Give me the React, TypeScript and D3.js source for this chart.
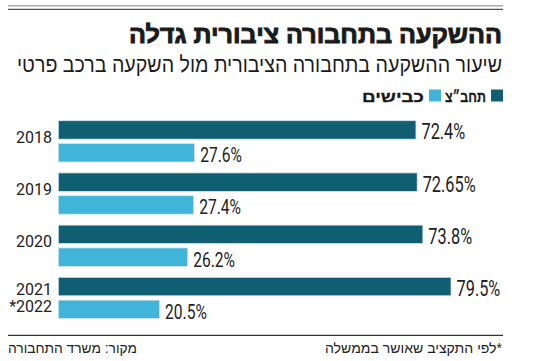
import React from 'react';
import { scaleBand, scaleLinear } from 'd3';

const years = ['2018', '2019', '2020', '2021'];
const yearLabels = [['2018'], ['2019'], ['2020'], ['2021', '*2022']];
const busShare = [72.4, 72.65, 73.8, 79.5];
const roadShare = [27.6, 27.4, 26.2, 20.5];
const seriesKeys = ['bus', 'road'];
const seriesNames = ['תחב״צ', 'כבישים'];

const title = 'ההשקעה בתחבורה ציבורית גדלה';
const subtitle = 'שיעור ההשקעה בתחבורה הציבורית מול השקעה ברכב פרטי';
const source = 'מקור: משרד התחבורה';
const note = '*לפי התקציב שאושר בממשלה';

const W = 550;
const H = 361;
const colors = ['#0f5e72', '#41b4d9'];
const hebFont = '"Liberation Sans", "DejaVu Sans", sans-serif';
const numFont = 'Roboto, sans-serif';

const App = () => {
  // outer band = year group, inner band = series
  const y0 = scaleBand<string>()
    .domain(years)
    .range([120.7, 318.6])
    .paddingInner(0.209)
    .paddingOuter(0);

  const y1 = scaleBand<string>()
    .domain(seriesKeys)
    .range([0, y0.bandwidth()])
    .paddingInner(0.19);

  const x = scaleLinear().domain([0, 100]).range([58.3, 552.3]);

  const values = [busShare, roadShare];

  return (
    <svg
      width={W}
      height={H}
      style={{ position: 'absolute', left: 0, top: 0, background: '#fff' }}
    >
      {/* top rules */}
      <line x1={8} x2={503} y1={5.8} y2={5.8} stroke="#aaa" strokeWidth={1.6} />
      <line x1={8} x2={503} y1={9.4} y2={9.4} stroke="#555" strokeWidth={1.4} />

      <text
        x={502}
        y={43}
        direction="rtl"
        textAnchor="start"
        fontFamily={hebFont}
        fontWeight={900}
        fontSize={24}
        fill="#1a1a1a"
        stroke="#1a1a1a"
        strokeWidth={0.9}
        textLength={373}
        lengthAdjust="spacingAndGlyphs"
      >
        {title}
      </text>
      <text
        transform="translate(502,71.5) scale(1,1.1)"
        direction="rtl"
        textAnchor="start"
        fontFamily={hebFont}
        fontSize={20}
        fill="#1a1a1a"
        textLength={485}
        lengthAdjust="spacingAndGlyphs"
      >
        {subtitle}
      </text>

      {/* legend */}
      <rect x={491} y={89.5} width={12} height={12} fill={colors[0]} />
      <text x={486} y={101.5} direction="rtl" textAnchor="start" fontFamily={hebFont}
        fontWeight={700} fontSize={15} fill="#1a1a1a" stroke="#1a1a1a" strokeWidth={0.3}
        textLength={41} lengthAdjust="spacingAndGlyphs">
        {seriesNames[0]}
      </text>
      <rect x={429} y={89.5} width={12} height={12} fill={colors[1]} />
      <text x={424} y={101.5} direction="rtl" textAnchor="start" fontFamily={hebFont}
        fontWeight={700} fontSize={15} fill="#1a1a1a" stroke="#1a1a1a" strokeWidth={0.3}
        textLength={62} lengthAdjust="spacingAndGlyphs">
        {seriesNames[1]}
      </text>

      {years.map((yr, i) => {
        const gy = y0(yr) as number;
        const center = gy + y0.bandwidth() / 2;
        const lines = yearLabels[i];
        return (
          <g key={yr}>
            {seriesKeys.map((k, s) => {
              const v = values[s][i];
              const by = gy + (y1(k) as number);
              const bh = y1.bandwidth();
              return (
                <g key={k}>
                  <rect
                    x={x(0)}
                    y={by}
                    width={x(v) - x(0)}
                    height={bh}
                    fill={colors[s]}
                    stroke="#d6e6ec"
                    strokeWidth={0.8}
                  />
                  <text
                    transform={`translate(${x(v) + 5.5},${by + bh + 0.3}) scale(0.76,1)`}
                    fontFamily={numFont}
                    fontSize={s === 0 ? 21.5 : 20.5}
                    fill="#222"
                  >
                    {`${v}%`}
                  </text>
                </g>
              );
            })}
            {lines.map((t, j) => (
              <text
                key={t}
                x={52}
                y={center + 1.5 - (lines.length - 1) * 4 + j * 17}
                textAnchor="end"
                fontFamily={numFont}
                fontSize={16}
                fill="#222"
              >
                {t}
              </text>
            ))}
          </g>
        );
      })}

      {/* footer */}
      <line x1={8} x2={503} y1={335.4} y2={335.4} stroke="#333" strokeWidth={1.4} />
      <text x={137} y={353} direction="rtl" textAnchor="start" fontFamily={hebFont}
        fontSize={14} fill="#222" textLength={129} lengthAdjust="spacingAndGlyphs">
        {source}
      </text>
      <text x={502} y={353} direction="rtl" textAnchor="start" fontFamily={hebFont}
        fontSize={14} fill="#222" textLength={177} lengthAdjust="spacingAndGlyphs">
        {note}
      </text>
    </svg>
  );
};

export default App;
